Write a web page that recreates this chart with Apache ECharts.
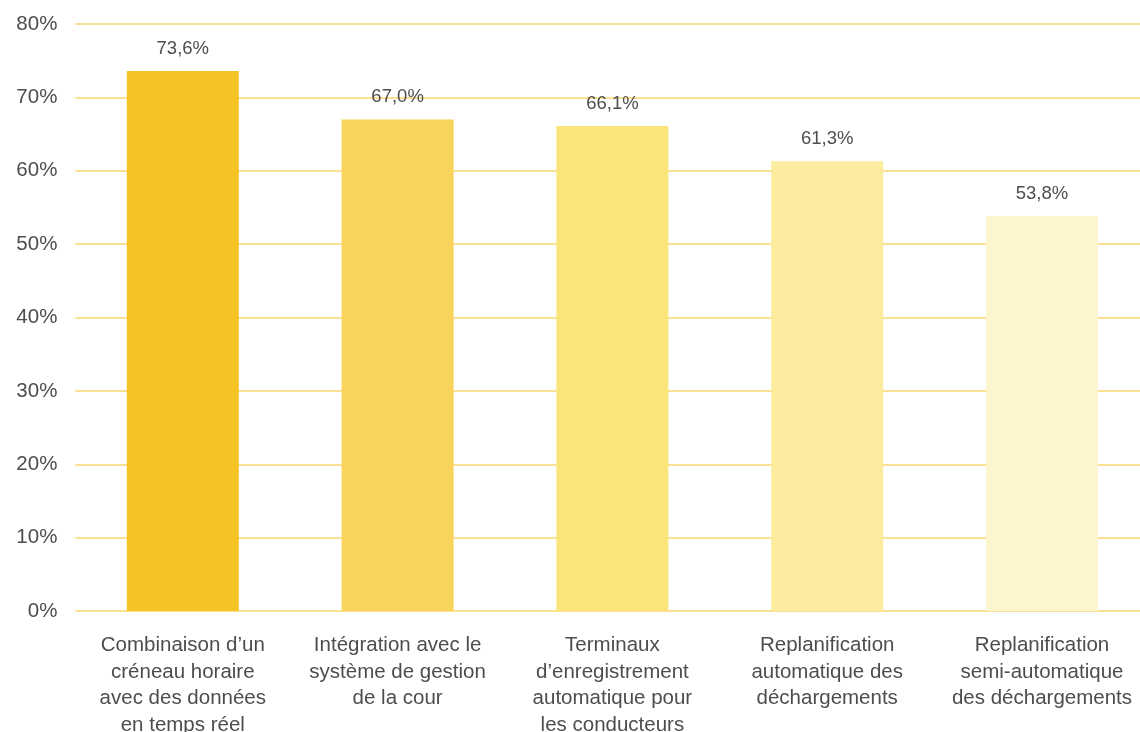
<!DOCTYPE html>
<html><head><meta charset="utf-8">
<script src="https://cdn.jsdelivr.net/npm/echarts@6/dist/echarts.min.js"></script>
<style>html,body{margin:0;padding:0;background:#fff}#c{width:1140px;height:732px}</style>
</head><body><div id="c"></div>
<script>
var categories = [
  "Combinaison d’un\ncréneau horaire\navec des données\nen temps réel",
  "Intégration avec le\nsystème de gestion\nde la cour",
  "Terminaux\nd’enregistrement\nautomatique pour\nles conducteurs",
  "Replanification\nautomatique des\ndéchargements",
  "Replanification\nsemi-automatique\ndes déchargements"
];
var values = [73.6, 67.0, 66.1, 61.3, 53.8];
var barColors = ["#F5C324", "#F8D45C", "#FBE57A", "#FCEC9F", "#FDF5CE"];
var yTicks = [0, 10, 20, 30, 40, 50, 60, 70, 80];

var chart = echarts.init(document.getElementById('c'), null, {renderer: 'canvas'});
var font = '"Liberation Sans", Arial, Helvetica, sans-serif';
chart.setOption({
  animation: false,
  textStyle: {fontFamily: font},
  grid: {left: 75.4, width: 1074, top: 24, height: 587, containLabel: false, outerBoundsMode: 'none'},
  xAxis: {
    type: 'category',
    data: categories,
    axisLine: {show: false},
    axisTick: {show: false},
    axisLabel: {color: '#4d4d4f', fontSize: 20.5, lineHeight: 26.7, margin: 21, interval: 0, fontFamily: font}
  },
  yAxis: {
    type: 'value',
    min: yTicks[0], max: yTicks[yTicks.length - 1], interval: 10,
    axisLine: {show: false},
    axisTick: {show: false},
    splitLine: {lineStyle: {color: '#F8D76C', width: 1.5}},
    axisLabel: {color: '#4d4d4f', fontSize: 20.5, margin: 18, formatter: function (v) { return v + '%'; }, fontFamily: font}
  },
  series: [{
    type: 'bar',
    barWidth: 112,
    data: values.map(function (v, i) { return {value: v, itemStyle: {color: barColors[i]}}; }),
    label: {
      show: true, position: 'top', distance: 13,
      color: '#4d4d4f', fontSize: 18.5, fontFamily: font,
      formatter: function (p) { return p.value.toFixed(1).replace('.', ',') + '%'; }
    }
  }]
});
</script></body></html>
